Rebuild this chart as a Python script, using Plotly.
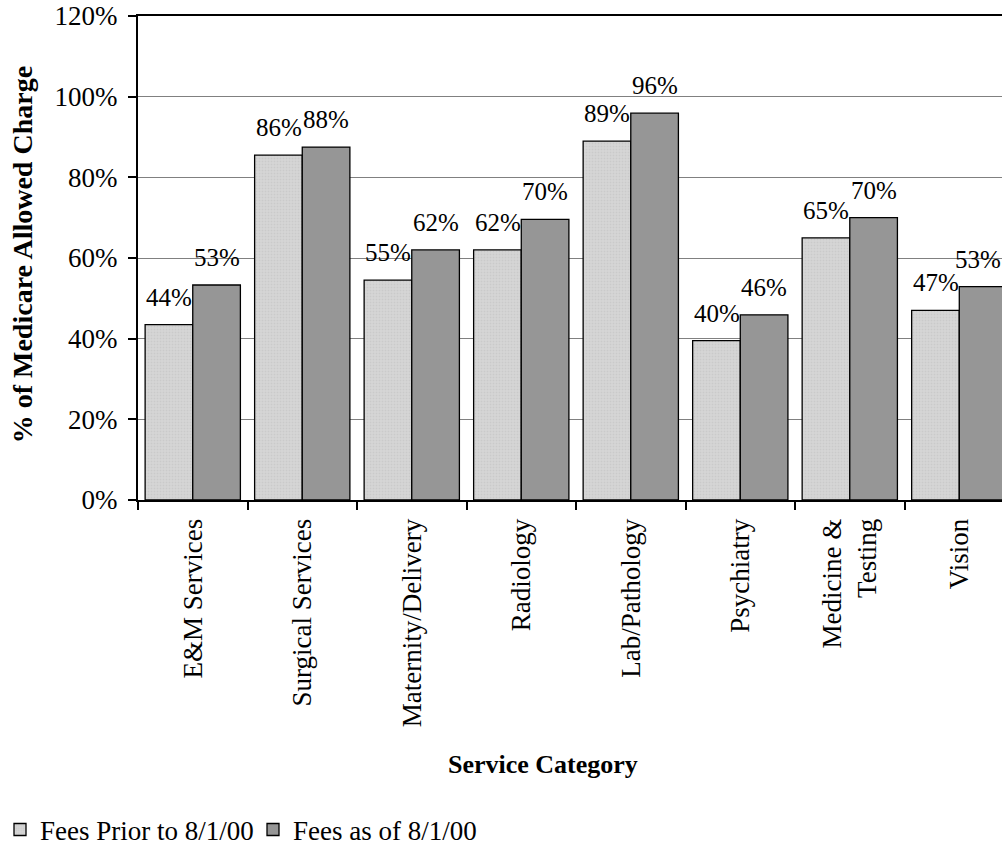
import plotly.graph_objects as go

categories = ["E&M Services", "Surgical Services", "Maternity/Delivery", "Radiology",
              "Lab/Pathology", "Psychiatry", "Medicine &<br>Testing", "Vision"]
fees_prior = [43.5, 85.5, 54.5, 62.0, 89.0, 39.5, 65.0, 47.0]
fees_asof = [53.3, 87.5, 62.0, 69.6, 95.9, 45.9, 70.0, 52.9]
labels_prior = ["44%", "86%", "55%", "62%", "89%", "40%", "65%", "47%"]
labels_asof = ["53%", "88%", "62%", "70%", "96%", "46%", "70%", "53%"]
y_ticks = [0, 20, 40, 60, 80, 100, 120]
y_tick_text = ["0%", "20%", "40%", "60%", "80%", "100%", "120%"]

FONT = "Liberation Serif, Times New Roman, serif"

fig = go.Figure()
fig.add_trace(go.Bar(
    x=categories, y=fees_prior, name="Fees Prior to 8/1/00",
    marker=dict(color="#d3d3d3", line=dict(color="black", width=1.3),
                pattern=dict(shape=".", bgcolor="#d6d6d6", fgcolor="#bdbdbd",
                             size=3, solidity=0.3)),
))
fig.add_trace(go.Bar(
    x=categories, y=fees_asof, name="Fees as of 8/1/00",
    marker=dict(color="#969696", line=dict(color="black", width=1.3)),
))

annotations = []
n = len(categories)
for i, c in enumerate(categories):
    annotations.append(dict(x=c, y=fees_prior[i], xref="x", yref="y", text=labels_prior[i],
                            showarrow=False, xshift=-23.75, yshift=12, yanchor="bottom",
                            font=dict(family=FONT, size=25, color="black")))
    if i == n - 1:
        annotations.append(dict(x=1, y=fees_asof[i], xref="paper", yref="y", text=labels_asof[i],
                                showarrow=False, xanchor="right", xshift=1, yshift=12,
                                yanchor="bottom",
                                font=dict(family=FONT, size=25, color="black")))
    else:
        annotations.append(dict(x=c, y=fees_asof[i], xref="x", yref="y", text=labels_asof[i],
                                showarrow=False, xshift=23.75, yshift=12, yanchor="bottom",
                                font=dict(family=FONT, size=25, color="black")))

annotations.append(dict(text="<b>% of Medicare Allowed Charge</b>", xref="paper", yref="paper",
                        x=-0.134, y=0.506, textangle=-90, showarrow=False,
                        xanchor="center", yanchor="middle",
                        font=dict(family=FONT, size=28, color="black")))
annotations.append(dict(text="<b>Service Category</b>", xref="paper", yref="paper",
                        x=0.469, y=-0.5475, showarrow=False,
                        xanchor="center", yanchor="middle",
                        font=dict(family=FONT, size=26, color="black")))

fig.update_layout(
    width=1002, height=846,
    margin=dict(l=138, r=0, t=16, b=346),
    paper_bgcolor="white", plot_bgcolor="white",
    barmode="group", bargap=0.13, bargroupgap=0,
    font=dict(family=FONT, size=27, color="black"),
    showlegend=True,
    legend=dict(orientation="h", xref="container", yref="container",
                x=0, y=0.019, xanchor="left", yanchor="middle",
                font=dict(family=FONT, size=27, color="black"),
                bgcolor="rgba(0,0,0,0)", borderwidth=0, traceorder="normal",
                entrywidth=208, entrywidthmode="pixels"),
    annotations=annotations,
    xaxis=dict(range=[-0.5, 7.39], showline=True, linecolor="black", linewidth=2,
               mirror=True, ticks="outside", tickson="boundaries", ticklen=8,
               tickcolor="black", tickwidth=1.5, tickangle=-90, showgrid=False,
               ticklabelstandoff=6,
               tickfont=dict(family=FONT, size=27, color="black")),
    yaxis=dict(range=[0, 120], tickvals=y_ticks, ticktext=y_tick_text,
               showline=True, linecolor="black", linewidth=2, ticks="outside",
               ticklen=8, tickcolor="black", tickwidth=1.5, showgrid=True,
               gridcolor="#808080", gridwidth=1, zeroline=False,
               ticklabelstandoff=5,
               tickfont=dict(family=FONT, size=27, color="black")),
)

fig.write_html("out.html")
